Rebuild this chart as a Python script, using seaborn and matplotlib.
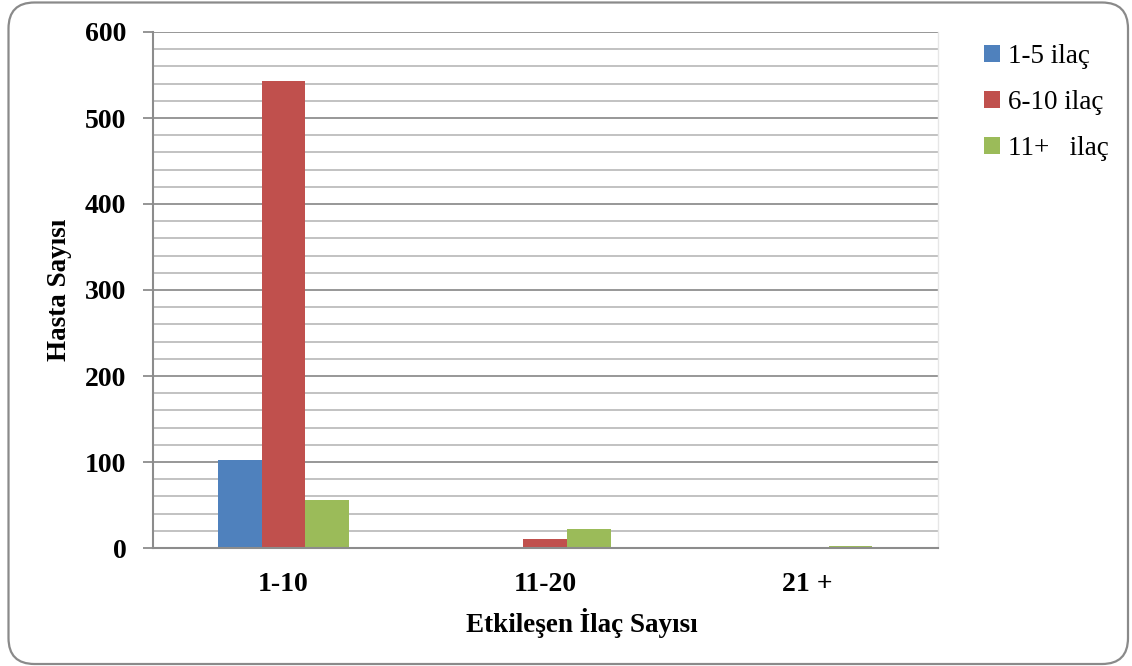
import matplotlib
matplotlib.use("Agg")
import matplotlib.pyplot as plt
from matplotlib.patches import FancyBboxPatch
from matplotlib.ticker import MultipleLocator
from matplotlib.transforms import IdentityTransform
import seaborn as sns
import pandas as pd

# Interacting drug count groups (x axis) and patient counts per drug-use group
categories = ["1-10", "11-20", "21 +"]
series_names = ["1-5 ilaç", "6-10 ilaç", "11+   ilaç"]
ilac_1_5 = [102, 0, 0]
ilac_6_10 = [543, 10, 0]
ilac_11_plus = [56, 22, 2]

colors = ["#4F81BD", "#C0504D", "#9BBB59"]

rows = []
for name, vals in zip(series_names, [ilac_1_5, ilac_6_10, ilac_11_plus]):
    for cat, v in zip(categories, vals):
        rows.append({"grup": cat, "seri": name, "hasta": v})
df = pd.DataFrame(rows)

sns.set_style("white")
plt.rcParams["font.family"] = ["Liberation Serif", "DejaVu Serif"]
plt.rcParams["text.color"] = "black"
plt.rcParams["xtick.labelcolor"] = "black"
plt.rcParams["ytick.labelcolor"] = "black"
plt.rcParams["axes.labelcolor"] = "black"

W, H = 1132, 666
fig = plt.figure(figsize=(W / 100, H / 100), dpi=100)
ax = fig.add_axes([152.7 / W, (H - 548) / H, (937.7 - 152.7) / W, (548 - 32) / H])

sns.barplot(data=df, x="grup", y="hasta", hue="seri", order=categories,
            hue_order=series_names, palette=colors, width=0.5,
            linewidth=0, saturation=1, ax=ax, errorbar=None)

ax.set_xlim(-0.5, 2.5)
ax.set_ylim(0, 600)
ax.yaxis.set_major_locator(MultipleLocator(100))
ax.yaxis.set_minor_locator(MultipleLocator(20))
ax.grid(which="minor", axis="y", color="#bdbdbd", linewidth=1.3)
ax.grid(which="major", axis="y", color="#8f8f8f", linewidth=1.3)
ax.set_axisbelow(True)

ax.spines["top"].set_visible(False)
ax.spines["right"].set_color("#e6e6e6")
ax.spines["right"].set_linewidth(1.0)
ax.spines["left"].set_color("#8c8c8c")
ax.spines["left"].set_linewidth(1.5)
ax.spines["bottom"].set_color("#8c8c8c")
ax.spines["bottom"].set_linewidth(1.5)

ax.tick_params(axis="y", which="major", direction="out", length=7, width=1.3,
               color="#8c8c8c", pad=12, left=True)
ax.tick_params(axis="y", which="minor", length=0)
ax.tick_params(axis="x", length=0, pad=17)
for lab in ax.get_yticklabels() + ax.get_xticklabels():
    lab.set_fontsize(20)
    lab.set_fontweight("bold")
    lab.set_color("black")

ax.set_xlabel("Etkileşen İlaç Sayısı", fontsize=19.5, fontweight="bold")
ax.set_ylabel("Hasta Sayısı", fontsize=19.5, fontweight="bold")
ax.xaxis.set_label_coords((582 - 152.7) / (937.7 - 152.7), -(623 - 548) / (548 - 32))
ax.yaxis.set_label_coords(-(152.7 - 59) / (937.7 - 152.7), 0.5)
ax.xaxis.label.set_verticalalignment("center")
ax.yaxis.label.set_verticalalignment("center")

handles, labels = ax.get_legend_handles_labels()
ax.legend(handles, labels, loc="upper left",
          bbox_to_anchor=(973 / W, (H - 33) / H), bbox_transform=fig.transFigure,
          frameon=False, fontsize=19.5, handlelength=0.6, handleheight=0.6,
          handletextpad=0.3, labelspacing=0.78, borderaxespad=0)

# rounded outer frame around the whole chart
frame = FancyBboxPatch((8.5, H - 664), 1128 - 8.5, 664 - 2.5,
                       boxstyle="round,pad=0,rounding_size=26",
                       transform=IdentityTransform(), facecolor="none",
                       edgecolor="#8a8a8a", linewidth=1.6, zorder=10)
fig.patches.append(frame)

fig.savefig("out.png", dpi=100, facecolor="white")
